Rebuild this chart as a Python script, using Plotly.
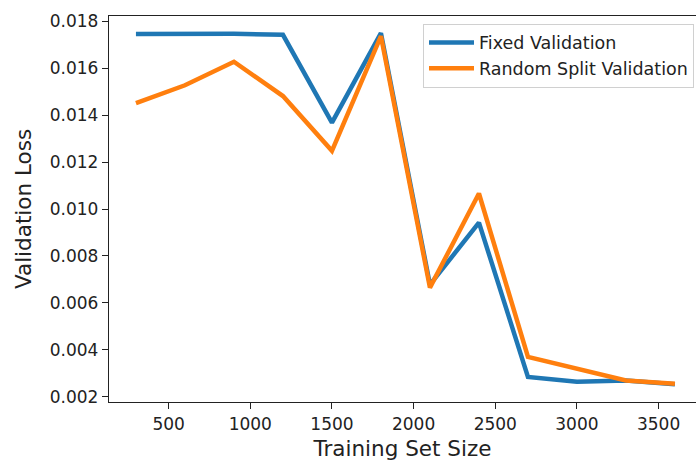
import plotly.graph_objects as go

# Training set sizes and the validation loss obtained for each split strategy
train_sizes = [300, 600, 900, 1200, 1500, 1800, 2100, 2400, 2700, 3000, 3300, 3600]
fixed_loss = [0.01745, 0.01747, 0.01746, 0.01742, 0.01368, 0.01749, 0.00678,
              0.00942, 0.00285, 0.00264, 0.00270, 0.00254]
random_loss = [0.01451, 0.01527, 0.01627, 0.01481, 0.01248, 0.01736, 0.00665,
               0.01066, 0.00370, 0.00322, 0.00270, 0.00256]

series_names = ["Fixed Validation", "Random Split Validation"]
series_colors = ["#1f77b4", "#ff7f0e"]

x_ticks = [500, 1000, 1500, 2000, 2500, 3000, 3500]
y_ticks = [0.002, 0.004, 0.006, 0.008, 0.010, 0.012, 0.014, 0.016, 0.018]

FONT = "DejaVu Sans"
TEXT = "#222222"

fig = go.Figure()
for name, values, color in zip(series_names, [fixed_loss, random_loss], series_colors):
    fig.add_trace(go.Scatter(
        x=train_sizes, y=values, name=name, mode="lines",
        line=dict(color=color, width=4.5),
    ))

fig.update_layout(
    width=696, height=463,
    margin=dict(l=109, r=0, t=16, b=61),
    paper_bgcolor="white", plot_bgcolor="white",
    font=dict(family=FONT, color=TEXT, size=17),
    showlegend=True,
    legend=dict(
        x=0.9966, y=0.98, xanchor="right", yanchor="top",
        bgcolor="white", bordercolor="#d0d0d0", borderwidth=1,
        font=dict(family=FONT, size=17.5, color=TEXT),
        itemwidth=45,
    ),
)

fig.update_xaxes(
    range=[135, 3729], tickvals=x_ticks, ticktext=[str(v) for v in x_ticks],
    showgrid=False, zeroline=False,
    showline=True, linecolor="#222222", linewidth=1.3, mirror=True,
    ticks="outside", ticklen=6, tickcolor="#222222", tickwidth=1.3,
    tickfont=dict(family=FONT, size=17, color=TEXT),
    title=dict(text="Training Set Size", font=dict(family=FONT, size=21.5, color=TEXT),
               standoff=8),
)
fig.update_yaxes(
    range=[0.00178, 0.01822], tickvals=y_ticks, ticktext=[f"{v:.3f}" for v in y_ticks],
    showgrid=False, zeroline=False,
    showline=True, linecolor="#222222", linewidth=1.3, mirror=False,
    ticks="outside", ticklen=6, tickcolor="#222222", tickwidth=1.3,
    tickfont=dict(family=FONT, size=17, color=TEXT),
    title=dict(text="Validation Loss", font=dict(family=FONT, size=21.5, color=TEXT),
               standoff=12),
)

fig.write_html("out.html")
